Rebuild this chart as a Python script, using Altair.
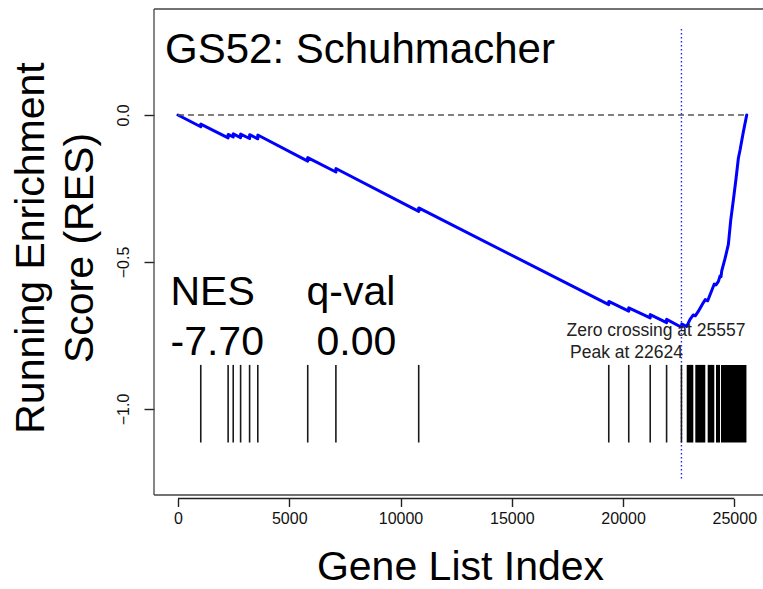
import altair as alt
import pandas as pd

FONT = "Liberation Sans, Arial, Helvetica, sans-serif"

# ---- data ----
# running enrichment score vertices (gene index, RES)
res_idx = [0, 1023, 1023, 2253, 2253, 2482, 2482, 2814, 2814, 3218, 3218, 3586, 3586,
           5830, 5830, 7096, 7096, 10817, 10817, 19358, 19358, 20256, 20256,
           21221, 21221, 21957, 21957, 22624, 22640, 22860, 23011, 23157, 23247,
           23380, 23610, 23696, 23803, 23985, 24100, 24177, 24285, 24356, 24401,
           24435, 24584, 24733, 24840, 24957, 25079, 25182, 25258, 25407, 25557]
res_val = [0.0, -0.040, -0.031, -0.078, -0.066, -0.075, -0.064, -0.077, -0.065, -0.080, -0.067, -0.081, -0.068,
           -0.157, -0.145, -0.194, -0.182, -0.328, -0.316, -0.645, -0.634, -0.667, -0.656,
           -0.690, -0.679, -0.706, -0.695, -0.722, -0.711, -0.719, -0.695, -0.680, -0.683,
           -0.668, -0.638, -0.628, -0.632, -0.597, -0.575, -0.578, -0.566, -0.548, -0.550,
           -0.530, -0.488, -0.440, -0.357, -0.289, -0.215, -0.147, -0.119, -0.057, 0.0]

# individual hits (gene index)
hit_idx = [1023, 2253, 2482, 2814, 3218, 3586, 5830, 7096, 10817,
           19358, 20256, 21221, 21957, 22624]
# dense runs of hits (start, end gene index)
band_start = [22860, 23247, 23803, 24177, 24401]
band_end = [23157, 23696, 24100, 24356, 25545]

x_ticks = [0, 5000, 10000, 15000, 20000, 25000]
y_ticks = [-1.0, -0.5, 0.0]

peak_at = 22624
zero_cross = 25557

title_text = "GS52: Schuhmacher"
nes_label, nes_value = "NES", "-7.70"
q_label, q_value = "q-val", "0.00"
zero_text = "Zero crossing at 25557"
peak_text = "Peak at 22624"
x_title = "Gene List Index"
y_title_1 = "Running Enrichment"
y_title_2 = "Score (RES)"

# ---- chart ----
W, H = 609, 486
xs = alt.Scale(domain=[-1078, 26289], nice=False, zero=False)
ys = alt.Scale(domain=[-1.2925, 0.3605], nice=False, zero=False)

x_axis = alt.Axis(values=x_ticks, format="d", title=None, domain=False, grid=False,
                  tickSize=8, tickWidth=1.4, tickColor="#222", offset=3.5,
                  labelFont=FONT, labelFontSize=16, labelColor="#111", labelPadding=4,
                  labelFlush=False, labelOverlap=False)
y_axis = alt.Axis(values=y_ticks, format=".1f", title=None, domain=False, grid=False,
                  tickSize=10, tickWidth=1.4, tickColor="#222",
                  labelAngle=270, labelAlign="center", labelBaseline="alphabetic",
                  labelPadding=16, labelFont=FONT, labelFontSize=16, labelColor="#111",
                  labelFlush=False, labelOverlap=False)

one = pd.DataFrame({"k": [0]})

curve_df = pd.DataFrame({"idx": res_idx, "res": res_val, "i": list(range(len(res_idx)))})
curve = alt.Chart(curve_df).mark_line(color="#0000ff", strokeWidth=3, strokeCap="round",
                                      strokeJoin="round").encode(
    x=alt.X("idx:Q", scale=xs, axis=x_axis),
    y=alt.Y("res:Q", scale=ys, axis=y_axis),
    order="i:Q",
)

hits = alt.Chart(pd.DataFrame({"idx": hit_idx})).mark_rule(color="#1a1a1a", strokeWidth=1.6).encode(
    x=alt.X("idx:Q", scale=xs, axis=x_axis),
    y=alt.YDatum(datum=-0.85, scale=ys, axis=y_axis),
    y2=alt.Y2Datum(datum=-1.114),
)
bands = alt.Chart(pd.DataFrame({"s": band_start, "e": band_end})).mark_rect(color="black").encode(
    x=alt.X("s:Q", scale=xs, axis=x_axis),
    x2="e:Q",
    y=alt.YDatum(datum=-0.85, scale=ys, axis=y_axis),
    y2=alt.Y2Datum(datum=-1.114),
)

zero_line = alt.Chart(one).mark_rule(color="#555", strokeWidth=1.4, strokeDash=[6, 4]).encode(
    x=alt.XDatum(datum=0, scale=xs, axis=x_axis),
    x2=alt.X2Datum(datum=zero_cross),
    y=alt.YDatum(datum=0, scale=ys, axis=y_axis),
)
peak_line = alt.Chart(one).mark_rule(color="#1f1fff", strokeWidth=1.4, strokeDash=[1.5, 2.5]).encode(
    x=alt.XDatum(datum=peak_at, scale=xs, axis=x_axis),
    y=alt.YDatum(datum=0.2925, scale=ys, axis=y_axis),
    y2=alt.Y2Datum(datum=-1.241),
)

frame_c = "#444"
frame_top = alt.Chart(one).mark_rule(color=frame_c, strokeWidth=1.3).encode(
    x=alt.value(0), x2=alt.value(W), y=alt.value(0))
frame_left = alt.Chart(one).mark_rule(color=frame_c, strokeWidth=1.3).encode(
    x=alt.value(0), y=alt.value(0), y2=alt.value(H))
frame_bottom = alt.Chart(one).mark_rule(color=frame_c, strokeWidth=1.3).encode(
    x=alt.value(0), x2=alt.value(W), y=alt.value(H))
x_axis_line = alt.Chart(one).mark_rule(color="#222", strokeWidth=1.3).encode(
    x=alt.XDatum(datum=x_ticks[0], scale=xs, axis=x_axis),
    x2=alt.X2Datum(datum=x_ticks[-1]),
    y=alt.value(H + 3.5))


def txt(s, x, y, size, align="left", angle=0, color="black"):
    kw = dict(align=align, baseline="alphabetic", font=FONT, fontSize=size, color=color)
    if angle:
        kw["angle"] = angle
    return alt.Chart(one).mark_text(**kw).encode(
        x=alt.value(x), y=alt.value(y), text=alt.value(s))


texts = [
    txt(title_text, 11, 54, 42),
    txt(nes_label, 16.5, 296, 41),
    txt(q_label, 152.5, 296, 41),
    txt(nes_value, 16.5, 346, 41),
    txt(q_value, 162.5, 346, 41),
    txt(zero_text, 412.5, 326.5, 17.5, color="#222"),
    txt(peak_text, 416, 349, 17.5, color="#222"),
    txt(x_title, 306.5, 571, 41, align="center"),
    txt(y_title_1, -110, 239, 41, align="center", angle=270),
    txt(y_title_2, -61, 239, 41, align="center", angle=270),
]

chart = alt.layer(
    curve, zero_line, peak_line, bands, hits,
    frame_top, frame_left, frame_bottom, x_axis_line, *texts
).properties(
    width=W, height=H,
    autosize=alt.AutoSizeParams(type="none"),
    padding={"left": 154, "top": 9, "right": 0, "bottom": 94},
    background="white",
).configure_view(stroke=None)

chart.save("out.html", embed_options={"renderer": "svg", "actions": False})
